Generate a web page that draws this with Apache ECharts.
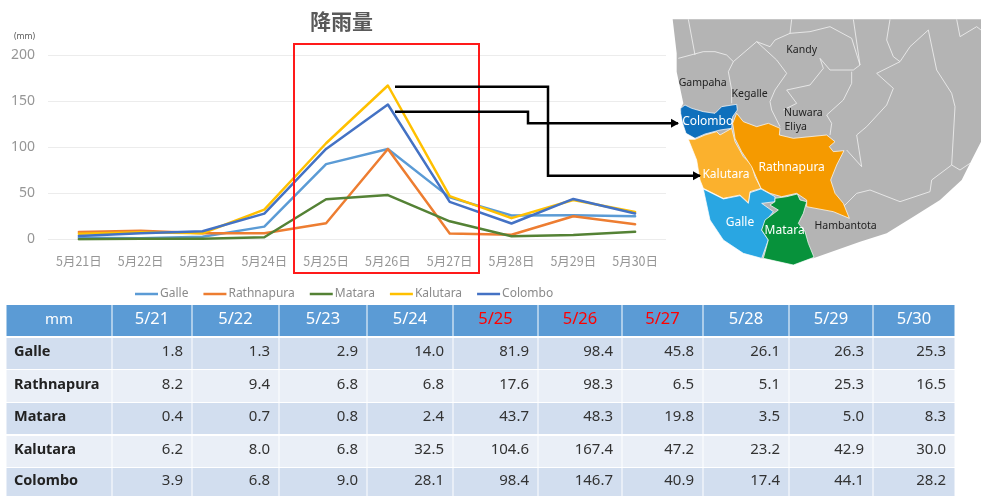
<!DOCTYPE html>
<html>
<head>
<meta charset="utf-8">
<style>
  html, body { margin: 0; padding: 0; background: #fff; }
  #chart { width: 981px; height: 496px; }
</style>
<script src="https://cdn.jsdelivr.net/npm/echarts@6/dist/echarts.min.js"></script>
</head>
<body>
<div id="chart"></div>
<script>
const categories = ['5月21日', '5月22日', '5月23日', '5月24日', '5月25日', '5月26日', '5月27日', '5月28日', '5月29日', '5月30日']
const tableDays = ['5/21', '5/22', '5/23', '5/24', '5/25', '5/26', '5/27', '5/28', '5/29', '5/30']
const redDays = ['5/25', '5/26', '5/27']
const districts = ['Galle', 'Rathnapura', 'Matara', 'Kalutara', 'Colombo']
const galle = [1.8, 1.3, 2.9, 14.0, 81.9, 98.4, 45.8, 26.1, 26.3, 25.3]
const rathnapura = [8.2, 9.4, 6.8, 6.8, 17.6, 98.3, 6.5, 5.1, 25.3, 16.5]
const matara = [0.4, 0.7, 0.8, 2.4, 43.7, 48.3, 19.8, 3.5, 5.0, 8.3]
const kalutara = [6.2, 8.0, 6.8, 32.5, 104.6, 167.4, 47.2, 23.2, 42.9, 30.0]
const colombo = [3.9, 6.8, 9.0, 28.1, 98.4, 146.7, 40.9, 17.4, 44.1, 28.2]
const seriesValues = [galle, rathnapura, matara, kalutara, colombo]
const lineColors = ['#5B9BD5', '#ED7D31', '#548235', '#FFC000', '#4472C4']

const FONT = '"Noto Sans", "Noto Sans CJK JP", sans-serif'

// table layout
const colX = [6, 112, 192, 279, 367, 453, 538, 622, 703, 789, 873, 955]
const rowY = [[305, 336], [338, 369], [370, 402], [403, 434], [436, 467], [468, 496]]

function tableGraphics () {
  const out = []
  rowY.forEach((row, r) => {
    for (let c = 0; c < colX.length - 1; c++) {
      out.push({
        type: 'rect',
        shape: { x: colX[c] + 0.5, y: row[0], width: colX[c + 1] - colX[c] - 1, height: row[1] - row[0] },
        style: { fill: r === 0 ? '#5B9BD5' : (r % 2 ? '#D2DEEF' : '#EAEFF7') },
        silent: true
      })
      let text, color, align, x
      let font = '15px ' + FONT
      if (r === 0) {
        text = c === 0 ? 'mm' : tableDays[c - 1]
        color = redDays.includes(text) ? '#FF0000' : '#fff'
        align = 'center'
        x = (colX[c] + colX[c + 1]) / 2
        if (c > 0) font = '16.5px ' + FONT
      } else if (c === 0) {
        text = districts[r - 1]
        color = '#222'
        align = 'left'
        x = 14
        font = 'bold 14.5px ' + FONT
      } else {
        text = seriesValues[r - 1][c - 1].toFixed(1)
        color = '#333'
        align = 'right'
        x = colX[c + 1] - 9
      }
      out.push({
        type: 'text',
        z: 5,
        silent: true,
        style: {
          x: x,
          y: (row[0] + row[1]) / 2 - (r === 0 ? 1 : 1.5),
          text: text,
          fill: color,
          font: font,
          textAlign: align,
          textVerticalAlign: 'middle'
        }
      })
    }
  })
  return out
}

// map shapes, traced in 3x crop coordinates
const toPage = pts => pts.map(p => [660 + p[0] / 3, 10 + p[1] / 3])
const landShape = [[38, 28], [963, 28], [963, 395], [935, 450], [905, 510], [840, 570], [760, 620], [680, 670], [600, 695], [530, 720], [460, 745], [300, 745], [60, 300], [70, 280], [50, 185], [50, 130]]
const colomboShape = [[62, 295], [75, 285], [95, 295], [130, 305], [165, 310], [185, 290], [230, 283], [232, 300], [218, 320], [215, 355], [180, 360], [135, 372], [105, 385], [78, 370], [68, 340], [62, 310]]
const kalutaraShape = [[85, 388], [105, 388], [135, 375], [170, 365], [180, 375], [215, 355], [225, 395], [250, 440], [275, 465], [285, 500], [303, 535], [270, 545], [265, 578], [240, 555], [190, 565], [130, 535], [120, 510], [110, 450]]
const rathnapuraShape = [[230, 310], [250, 335], [290, 350], [325, 340], [360, 355], [358, 375], [400, 385], [500, 375], [525, 395], [508, 410], [520, 425], [552, 422], [530, 465], [512, 510], [525, 550], [550, 580], [568, 625], [520, 605], [440, 590], [440, 570], [410, 550], [365, 560], [330, 550], [303, 535], [275, 470], [245, 425], [225, 385], [218, 340]]
const galleShape = [[130, 537], [190, 567], [240, 557], [265, 580], [270, 548], [303, 537], [345, 560], [345, 575], [305, 580], [340, 605], [320, 630], [305, 660], [325, 690], [305, 745], [250, 730], [190, 690], [150, 630]]
const mataraShape = [[345, 565], [380, 560], [412, 552], [420, 570], [440, 575], [430, 610], [415, 640], [435, 665], [445, 700], [462, 742], [400, 765], [310, 745], [325, 690], [305, 660], [315, 630], [355, 600], [330, 585], [345, 575]]
const borderLines = [
  [[85, 28], [105, 135]],
  [[55, 145], [130, 125], [165, 125], [200, 135], [220, 155], [205, 185], [215, 240], [215, 280]],
  [[220, 155], [290, 95], [330, 110], [345, 90], [390, 70], [395, 28]],
  [[290, 95], [350, 150], [380, 190], [345, 240], [330, 275], [335, 300], [360, 350]],
  [[390, 70], [450, 65], [510, 50], [575, 85], [600, 165], [580, 180], [510, 180], [480, 145], [490, 175], [450, 225], [380, 240], [410, 280], [370, 300]],
  [[575, 185], [575, 220], [550, 270], [500, 315], [515, 340], [510, 375]],
  [[580, 28], [600, 165]],
  [[690, 28], [680, 90], [700, 140], [720, 155], [750, 110], [805, 60], [830, 180], [875, 250], [885, 290], [875, 465], [900, 480], [930, 460]],
  [[720, 155], [650, 190], [700, 235], [680, 285], [620, 350], [590, 375], [605, 470], [560, 420]],
  [[875, 465], [815, 510], [810, 545], [720, 575], [630, 540], [590, 550], [550, 590]],
  [[890, 28], [900, 80], [950, 50], [963, 60]]
]
const mapLabels = [
  ['Kandy', 425, 121, '#222'], ['Gampaha', 128, 219, '#222'], ['Kegalle', 269, 252, '#222'],
  ['Nuwara', 430, 310, '#222'], ['Eliya', 407, 351, '#222'], ['Hambantota', 557, 649, '#222'],
  ['Colombo', 143, 336, '#fff'], ['Kalutara', 198, 494, '#fff'], ['Rathnapura', 395, 474, '#fff'],
  ['Galle', 240, 638, '#fff'], ['Matara', 374, 663, '#fff']
]

function mapGraphics () {
  const out = [{ type: 'polygon', shape: { points: toPage(landShape) }, style: { fill: '#B4B4B4' }, silent: true }]
  borderLines.forEach(l => out.push({
    type: 'polyline', shape: { points: toPage(l) }, style: { stroke: '#F2F2F2', lineWidth: 0.8, fill: null }, silent: true
  }))
  const colored = [[galleShape, '#29A6E2'], [kalutaraShape, '#FBB12D'], [colomboShape, '#0F70BC'], [rathnapuraShape, '#F59A00'], [mataraShape, '#07923B']]
  colored.forEach(s => out.push({
    type: 'polygon', shape: { points: toPage(s[0]) }, style: { fill: s[1], stroke: '#fff', lineWidth: 0.7 }, silent: true
  }))
  mapLabels.forEach(l => out.push({
    type: 'text',
    silent: true,
    z: 5,
    style: {
      x: 660 + l[1] / 3,
      y: 10 + l[2] / 3,
      text: l[0],
      fill: l[3],
      font: (l[3] === '#fff' ? 12 : 10.5) + 'px ' + FONT,
      textAlign: 'center',
      textVerticalAlign: 'middle'
    }
  }))
  return out
}

function arrow (points) {
  const end = points[points.length - 1]
  return [
    { type: 'polyline', z: 6, silent: true, shape: { points: points }, style: { stroke: '#000', lineWidth: 2.5, fill: null } },
    { type: 'polygon', z: 6, silent: true, shape: { points: [[end[0] + 1, end[1]], [end[0] - 7, end[1] - 4.5], [end[0] - 7, end[1] + 4.5]] }, style: { fill: '#000' } }
  ]
}

const chart = echarts.init(document.getElementById('chart'), null, { renderer: 'canvas' })
chart.setOption({
  animation: false,
  backgroundColor: '#fff',
  color: lineColors,
  textStyle: { fontFamily: FONT },
  title: {
    text: '降雨量',
    left: 305,
    top: 6,
    textStyle: { fontSize: 21, fontWeight: 'bold', color: '#595959', fontFamily: '"Noto Sans CJK JP", sans-serif' }
  },
  grid: { left: 48, right: 315, top: 55.5, height: 184 },
  legend: {
    data: districts,
    top: 283,
    left: 130,
    icon: 'rect',
    itemWidth: 23,
    itemHeight: 2.5,
    itemGap: 15,
    textStyle: { fontSize: 12, color: '#8a8a8a', fontFamily: FONT, padding: [0, 0, 0, -3] }
  },
  xAxis: {
    type: 'category',
    data: categories,
    axisLine: { show: false },
    axisTick: { show: false },
    axisLabel: { margin: 15, fontSize: 12.5, color: '#969696', interval: 0, fontFamily: '"Noto Sans CJK JP", sans-serif' }
  },
  yAxis: {
    type: 'value',
    min: 0,
    max: 200,
    interval: 50,
    axisLabel: { margin: 13, fontSize: 14, color: '#969696', padding: [4, 0, 0, 0] },
    splitLine: { lineStyle: { color: '#ECECEC', width: 1 } }
  },
  series: districts.map((name, i) => ({
    name: name,
    type: 'line',
    data: seriesValues[i],
    symbol: 'none',
    lineStyle: { width: 2.5, cap: 'round', join: 'round' }
  })),
  graphic: [
    { type: 'text', silent: true, style: { x: 14, y: 32, text: '(mm)', fill: '#595959', font: '8.5px ' + FONT } },
    { type: 'rect', z: 6, silent: true, shape: { x: 294, y: 44, width: 185, height: 229 }, style: { fill: null, stroke: '#FF1A1A', lineWidth: 2 } },
    ...mapGraphics(),
    ...arrow([[395, 86.7], [548, 86.7], [548, 175.7], [700, 175.7]]),
    ...arrow([[395, 111.7], [528, 111.7], [528, 123.3], [678, 123.3]]),
    ...tableGraphics()
  ]
})
</script>
</body>
</html>
